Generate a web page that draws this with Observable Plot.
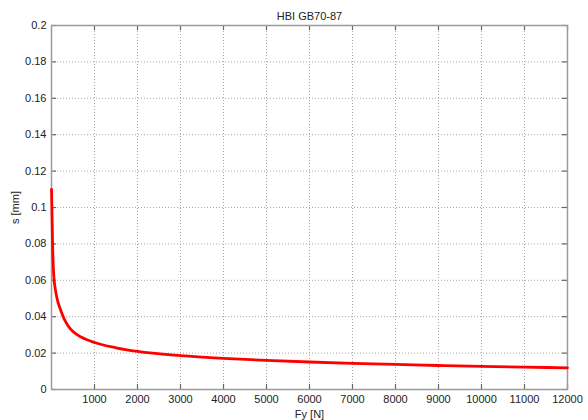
<!DOCTYPE html>
<html>
<head>
<meta charset="utf-8">
<script src="https://cdn.jsdelivr.net/npm/d3@7"></script>
<script src="https://cdn.jsdelivr.net/npm/@observablehq/plot@0.6"></script>
<style>
  html, body { margin: 0; padding: 0; background: #fff; }
</style>
</head>
<body>
<div id="chart"></div>
<script>
const title = "HBI GB70-87";
const xLabel = "Fy [N]";
const yLabel = "s [mm]";

// Force Fy [N]
const fy = [1, 10, 25, 50, 80, 100, 150, 200, 300, 400, 500, 700, 1000, 1500, 2000, 3000, 4000, 5000, 6000, 7000, 8000, 9000, 10000, 11000, 12000];
// Displacement s [mm]
const s = [0.110, 0.099, 0.080, 0.0635, 0.0565, 0.0535, 0.0480, 0.0445, 0.0385, 0.0345, 0.0318, 0.0287, 0.0258, 0.0229, 0.0209, 0.0186, 0.0171, 0.0160, 0.0151, 0.0144, 0.0138, 0.0132, 0.0127, 0.0123, 0.0119];

const xTicks = [1000, 2000, 3000, 4000, 5000, 6000, 7000, 8000, 9000, 10000, 11000, 12000];
const yTicks = [0, 0.02, 0.04, 0.06, 0.08, 0.1, 0.12, 0.14, 0.16, 0.18, 0.2];

const W = 588, H = 420, ML = 51, MR = 21, MT = 25, MB = 31;
const PW = W - ML - MR, PH = H - MT - MB, TL = 5;

const data = fy.map((x, i) => ({x, y: s[i]}));
const fmtY = d => String(+d.toFixed(2));
const tickGray = "#666666";
const frameGray = "#9a9a9a";
const gridStyle = {stroke: "#a8a8a8", strokeOpacity: 1, strokeDasharray: "1,2"};

const chart = Plot.plot({
  width: W,
  height: H,
  marginLeft: ML,
  marginRight: MR,
  marginTop: MT,
  marginBottom: MB,
  style: {fontFamily: "'Liberation Sans', Arial, sans-serif", fontSize: "11px", color: "#222", background: "#fff"},
  x: {domain: [0, 12000]},
  y: {domain: [0, 0.2]},
  marks: [
    Plot.gridX(xTicks.filter(d => d < 12000), gridStyle),
    Plot.gridY(yTicks.filter(d => d > 0 && d < 0.2), gridStyle),
    Plot.axisX(xTicks, {anchor: "bottom", tickSize: 0, tickPadding: 6, tickFormat: d => String(d), label: xLabel, labelAnchor: "center", labelArrow: "none", labelOffset: 28, fill: "#222"}),
    Plot.axisY(yTicks, {anchor: "left", tickSize: 0, tickPadding: 5, tickFormat: fmtY, label: yLabel, labelAnchor: "center", labelArrow: "none", labelOffset: 40, fill: "#222"}),
    Plot.tickX(xTicks, {x: d => d, insetTop: PH - TL, stroke: tickGray, strokeWidth: 1.2}),
    Plot.tickX(xTicks, {x: d => d, insetBottom: PH - TL, stroke: tickGray, strokeWidth: 1.2}),
    Plot.tickY(yTicks, {y: d => d, insetRight: PW - TL, stroke: tickGray, strokeWidth: 1.2}),
    Plot.tickY(yTicks, {y: d => d, insetLeft: PW - TL, stroke: tickGray, strokeWidth: 1.2}),
    Plot.frame({stroke: frameGray, strokeWidth: 1.5}),
    Plot.line(data, {x: "x", y: "y", stroke: "#ff0000", strokeWidth: 2.8, curve: "monotone-x"}),
    Plot.text([title], {frameAnchor: "top", dy: -13, fontSize: 11, fill: "#222"})
  ]
});
document.getElementById("chart").appendChild(chart);
</script>
</body>
</html>
